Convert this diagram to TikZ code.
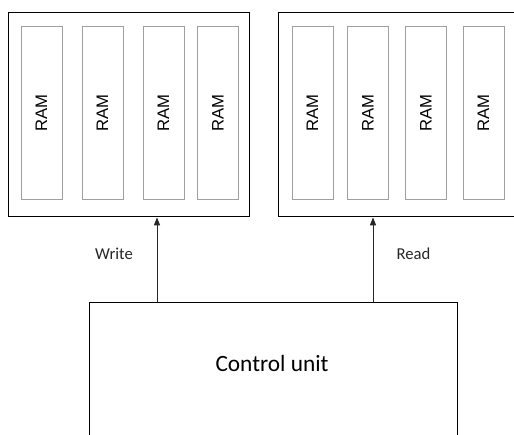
\documentclass[tikz,border=0pt]{standalone}
\usepackage{fontspec}
\setmainfont{Carlito}
\newfontfamily\ramfont{Liberation Sans}
\usetikzlibrary{arrows.meta,positioning}

\tikzset{
	bank/.style={draw=black, line width=1pt, anchor=north west, inner sep=0pt},
	ram/.style={draw=gray!75, line width=0.75pt, minimum width=30.75pt, minimum height=129pt,
		inner sep=0pt, font=\ramfont\fontsize{12.5}{15}\selectfont},
	sig/.style={draw=black!85, line width=0.75pt, -{Triangle[length=6pt,width=4.5pt]}},
	siglabel/.style={font=\fontsize{12.5}{15}\selectfont, text=black!85}
}

\begin{document}
\begin{tikzpicture}[x=0.75pt,y=0.75pt,yscale=-1,xscale=1]
		\useasboundingbox (0,0) rectangle (514,435);
		\clip (0,0) rectangle (514,435);

		% the two memory banks
		\node [bank, minimum width=240pt, minimum height=153pt] (rbank) at (278,12) {};
		\node [bank, minimum width=180.75pt, minimum height=153pt] (wbank) at (8,12) {};

		\foreach \x [count=\i] in {41.5,102.5,163.5,218}
			\node [ram] (wram\i) at (\x,113) {\rotatebox{90}{RAM}};
		\foreach \x [count=\i] in {312.5,368,426,483.5}
			\node [ram] (rram\i) at (\x,113) {\rotatebox{90}{RAM}};

		% control unit, its bottom runs off the page
		\node [bank, minimum width=276pt, minimum height=150pt] (ctrl) at (89,302) {};
		\node [font=\fontsize{17.5}{21}\selectfont] (ctrltext) at (272,363) {Control unit};

		\coordinate (wr) at (157,0);
		\coordinate (rd) at (373,0);
		\draw [sig] (ctrl.north -| wr) -- (wbank.south -| wr);
		\draw [sig] (ctrl.north -| rd) -- (rbank.south -| rd);

		\node [siglabel] (wlabel) at (114,254) {Write};
		\node [siglabel] (rlabel) at (413.5,254) {Read};
		\end{tikzpicture}
\end{document}
